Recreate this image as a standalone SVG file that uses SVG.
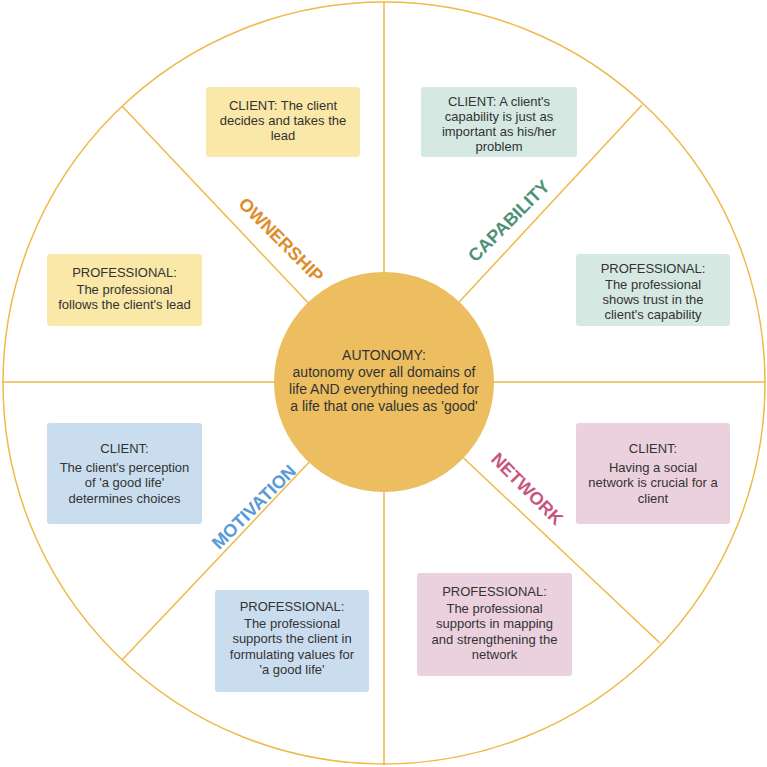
<svg xmlns="http://www.w3.org/2000/svg" width="767" height="767" viewBox="0 0 767 767">
<style>
.ln{stroke:#F0B94A;stroke-width:1.5;fill:none}
.bx{stroke:none}
.y{fill:#F9E8A7}
.g{fill:#D5E8E1}
.b{fill:#C9DDEF}
.p{fill:#EBD0DE}
.t{font-family:"Liberation Sans",Arial,sans-serif;font-size:13px;fill:#333;text-anchor:middle;dominant-baseline:central}
.c{font-family:"Liberation Sans",Arial,sans-serif;font-size:14px;fill:#333;text-anchor:middle;dominant-baseline:central}
.lab{font-family:"Liberation Sans",Arial,sans-serif;font-size:18px;font-weight:bold;text-anchor:middle;dominant-baseline:central}
</style>
<rect width="767" height="767" fill="#fff"/>
<g id="connectors">
<circle class="ln" cx="384" cy="383" r="381"/>
<line class="ln" x1="384" y1="2" x2="384" y2="765"/>
<line class="ln" x1="2" y1="382" x2="765" y2="382"/>
<line class="ln" x1="122" y1="106" x2="384" y2="383"/>
<line class="ln" x1="642" y1="105" x2="384" y2="383"/>
<line class="ln" x1="660" y1="643" x2="384" y2="383"/>
<line class="ln" x1="122" y1="660" x2="384" y2="383"/>
</g>
<g id="center">
<circle cx="384" cy="382" r="110" fill="#ECBE60"/>
<text class="c" x="384" y="355">AUTONOMY:</text>
<text class="c" x="384" y="372">autonomy over all domains of</text>
<text class="c" x="384" y="389">life AND everything needed for</text>
<text class="c" x="384" y="406">a life that one values as 'good'</text>
</g>
<g id="label-ownership"><text class="lab" fill="#E08C2C" transform="translate(281,240) rotate(45)">OWNERSHIP</text></g>
<g id="label-capability"><text class="lab" fill="#4F9176" transform="translate(509,221) rotate(-45)">CAPABILITY</text></g>
<g id="label-motivation"><text class="lab" fill="#5A9BD6" transform="translate(254,507) rotate(-45)">MOTIVATION</text></g>
<g id="label-network"><text class="lab" fill="#C8557F" transform="translate(527,489) rotate(45)">NETWORK</text></g>
<g id="ownership-client">
<rect class="bx y" x="206" y="87" width="154" height="70" rx="3"/>
<text class="t" x="283" y="105">CLIENT: The client</text>
<text class="t" x="283" y="120">decides and takes the</text>
<text class="t" x="283" y="135">lead</text>
</g>
<g id="ownership-professional">
<rect class="bx y" x="47" y="254" width="155" height="72" rx="3"/>
<text class="t" x="124.5" y="272">PROFESSIONAL:</text>
<text class="t" x="124.5" y="289">The professional</text>
<text class="t" x="124.5" y="304">follows the client's lead</text>
</g>
<g id="capability-client">
<rect class="bx g" x="421" y="87" width="156" height="70" rx="3"/>
<text class="t" x="499" y="101">CLIENT: A client's</text>
<text class="t" x="499" y="116">capability is just as</text>
<text class="t" x="499" y="131">important as his/her</text>
<text class="t" x="499" y="146">problem</text>
</g>
<g id="capability-professional">
<rect class="bx g" x="576" y="254" width="154" height="72" rx="3"/>
<text class="t" x="653" y="268">PROFESSIONAL:</text>
<text class="t" x="653" y="284">The professional</text>
<text class="t" x="653" y="299">shows trust in the</text>
<text class="t" x="653" y="314">client's capability</text>
</g>
<g id="motivation-client">
<rect class="bx b" x="47" y="423" width="155" height="101" rx="3"/>
<text class="t" x="124.5" y="448">CLIENT:</text>
<text class="t" x="124.5" y="467">The client's perception</text>
<text class="t" x="124.5" y="482">of 'a good life'</text>
<text class="t" x="124.5" y="498">determines choices</text>
</g>
<g id="motivation-professional">
<rect class="bx b" x="215" y="590" width="154" height="102" rx="3"/>
<text class="t" x="292" y="606">PROFESSIONAL:</text>
<text class="t" x="292" y="623">The professional</text>
<text class="t" x="292" y="638">supports the client in</text>
<text class="t" x="292" y="654">formulating values for</text>
<text class="t" x="292" y="669">'a good life'</text>
</g>
<g id="network-client">
<rect class="bx p" x="576" y="423" width="154" height="101" rx="3"/>
<text class="t" x="653" y="448">CLIENT:</text>
<text class="t" x="653" y="467">Having a social</text>
<text class="t" x="653" y="482">network is crucial for a</text>
<text class="t" x="653" y="498">client</text>
</g>
<g id="network-professional">
<rect class="bx p" x="417" y="573" width="155" height="103" rx="3"/>
<text class="t" x="494.5" y="591">PROFESSIONAL:</text>
<text class="t" x="494.5" y="608">The professional</text>
<text class="t" x="494.5" y="623">supports in mapping</text>
<text class="t" x="494.5" y="639">and strengthening the</text>
<text class="t" x="494.5" y="654">network</text>
</g>
</svg>
